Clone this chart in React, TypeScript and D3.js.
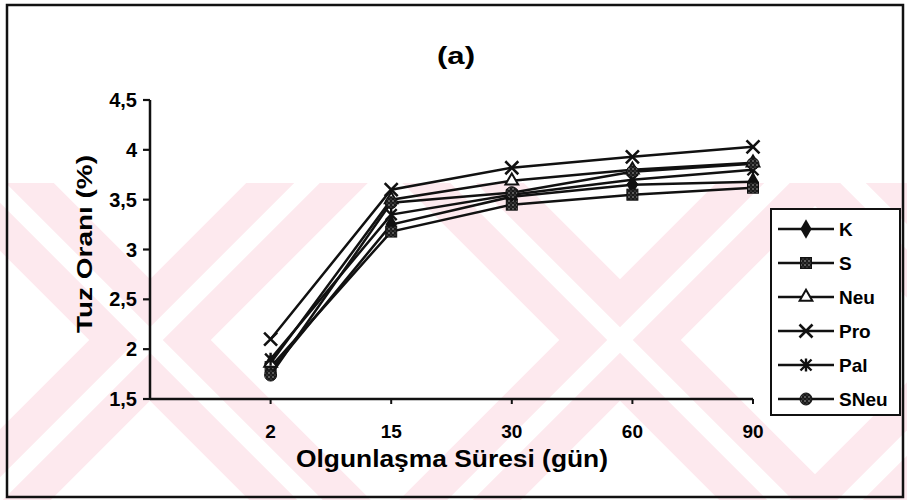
import React from "react";
import * as d3 from "d3";

// Ripening time categories (days) and salt content (%) per treatment
const categories = ["2", "15", "30", "60", "90"];
const yTicks = [1.5, 2, 2.5, 3, 3.5, 4, 4.5];
const seriesNames = ["K", "S", "Neu", "Pro", "Pal", "SNeu"];
const kValues = [1.78, 3.25, 3.53, 3.65, 3.68];
const sValues = [1.82, 3.18, 3.45, 3.55, 3.62];
const neuValues = [1.86, 3.5, 3.69, 3.8, 3.87];
const proValues = [2.1, 3.6, 3.82, 3.93, 4.03];
const palValues = [1.9, 3.35, 3.55, 3.7, 3.8];
const sneuValues = [1.74, 3.47, 3.57, 3.78, 3.86];

const seriesValues = [kValues, sValues, neuValues, proValues, palValues, sneuValues];

const W = 907;
const H = 500;
const FONT = "'Liberation Sans', Arial, sans-serif";

const x = d3.scaleLinear().domain([0, categories.length]).range([150, 753]);
const y = d3.scaleLinear().domain([1.5, 4.5]).range([399, 100]);

const fmt = (v: number) => String(v).replace(".", ",");

function Marker({ name, cx, cy }: { name: string; cx: number; cy: number }) {
  const t = `translate(${cx},${cy})`;
  if (name === "K") {
    const p = d3.symbol(d3.symbolDiamond, 110)();
    return <path d={p || ""} transform={t} fill="#111" />;
  }
  if (name === "S") {
    return <rect x={cx - 5.5} y={cy - 5.5} width={11} height={11} fill="url(#speckle)" stroke="#111" strokeWidth={1} />;
  }
  if (name === "Neu") {
    const p = d3.symbol(d3.symbolTriangle, 70)();
    return <path d={p || ""} transform={t} fill="#fff" stroke="#111" strokeWidth={2} />;
  }
  if (name === "Pro") {
    const r = 6.5;
    return (
      <path d={`M${-r},${-r}L${r},${r}M${-r},${r}L${r},${-r}`} transform={t} stroke="#111" strokeWidth={2.6} fill="none" />
    );
  }
  if (name === "Pal") {
    const r = 5.5;
    return (
      <path
        d={`M${-r},${-r}L${r},${r}M${-r},${r}L${r},${-r}M0,${-r - 1}L0,${r + 1}`}
        transform={t}
        stroke="#111"
        strokeWidth={2.4}
        fill="none"
      />
    );
  }
  return <circle cx={cx} cy={cy} r={6} fill="url(#speckle)" stroke="#111" strokeWidth={1} />;
}

// Light pink "X" shaped background emblem
function Emblem({ cx, cy, len }: { cx: number; cy: number; len: number }) {
  const d = len / Math.SQRT2;
  const arms = [
    [cx - d, cy - d, cx + d, cy + d],
    [cx + d, cy - d, cx - d, cy + d],
  ];
  return (
    <g>
      {arms.map((a, i) => (
        <line key={`p${i}`} x1={a[0]} y1={a[1]} x2={a[2]} y2={a[3]} stroke="#fde9ee" strokeWidth={86} />
      ))}
      {arms.map((a, i) => (
        <line key={`w${i}`} x1={a[0]} y1={a[1]} x2={a[2]} y2={a[3]} stroke="#ffffff" strokeWidth={18} />
      ))}
    </g>
  );
}

export default function App() {
  const line = d3
    .line<number>()
    .x((_, i) => x(i + 1))
    .y((v) => y(v));

  return (
    <svg width={W} height={H} style={{ position: "absolute", left: 0, top: 0, background: "#fff" }} fontFamily={FONT}>
      <defs>
        <pattern id="speckle" width={4} height={4} patternUnits="userSpaceOnUse">
          <rect width={4} height={4} fill="#1a1a1a" />
          <circle cx={1} cy={1} r={0.8} fill="#aaa" />
          <circle cx={3} cy={3} r={0.6} fill="#777" />
        </pattern>
        <clipPath id="wm">
          <rect x={0} y={183} width={W} height={H - 183} />
        </clipPath>
      </defs>

      <rect x={0} y={0} width={W} height={H} fill="#fff" />
      <g clipPath="url(#wm)">
        <Emblem cx={150} cy={340} len={560} />
        <Emblem cx={620} cy={340} len={560} />
        <Emblem cx={1010} cy={340} len={560} />
      </g>

      <rect x={7} y={5} width={896} height={492} fill="none" stroke="#111" strokeWidth={2.5} />

      <text x={456} y={64} textAnchor="middle" fontSize={23} fontWeight="bold" textLength={38} lengthAdjust="spacingAndGlyphs">
        (a)
      </text>

      {/* y axis */}
      <line x1={x(0)} y1={y(1.5)} x2={x(0)} y2={y(4.5)} stroke="#111" strokeWidth={2.5} />
      {yTicks.map((t) => (
        <g key={t}>
          <line x1={x(0) - 7} x2={x(0)} y1={y(t)} y2={y(t)} stroke="#111" strokeWidth={2.2} />
          <text x={137} y={y(t) + 7} textAnchor="end" fontSize={20} fontWeight="bold">
            {fmt(t)}
          </text>
        </g>
      ))}
      <text
        transform={`translate(92,244) rotate(-90)`}
        textAnchor="middle"
        fontSize={22}
        fontWeight="bold"
        textLength={178}
        lengthAdjust="spacingAndGlyphs"
      >
        Tuz Oranı (%)
      </text>

      {/* x axis */}
      <line x1={x(0)} y1={y(1.5)} x2={x(categories.length)} y2={y(1.5)} stroke="#111" strokeWidth={2.5} />
      {categories.map((c, i) => (
        <g key={c}>
          <line x1={x(i + 1)} x2={x(i + 1)} y1={y(1.5)} y2={y(1.5) + 5} stroke="#111" strokeWidth={2} />
          <text x={x(i + 1)} y={438} textAnchor="middle" fontSize={19} fontWeight="bold">
            {c}
          </text>
        </g>
      ))}
      <text x={452} y={467} textAnchor="middle" fontSize={23} fontWeight="bold" textLength={312} lengthAdjust="spacingAndGlyphs">
        Olgunlaşma Süresi (gün)
      </text>

      {/* series */}
      {seriesNames.map((name, si) => (
        <g key={name}>
          <path d={line(seriesValues[si]) || ""} fill="none" stroke="#111" strokeWidth={2.5} />
          {seriesValues[si].map((v, i) => (
            <Marker key={i} name={name} cx={x(i + 1)} cy={y(v)} />
          ))}
        </g>
      ))}

      {/* legend */}
      <rect x={771} y={209} width={129} height={206} fill="#fff" stroke="#111" strokeWidth={2} />
      {seriesNames.map((name, i) => {
        const ly = 229 + i * 34;
        return (
          <g key={name}>
            <line x1={778} x2={834} y1={ly} y2={ly} stroke="#111" strokeWidth={2.5} />
            <Marker name={name} cx={806} cy={ly} />
            <text x={839} y={ly + 7} fontSize={19} fontWeight="bold">
              {name}
            </text>
          </g>
        );
      })}
    </svg>
  );
}
